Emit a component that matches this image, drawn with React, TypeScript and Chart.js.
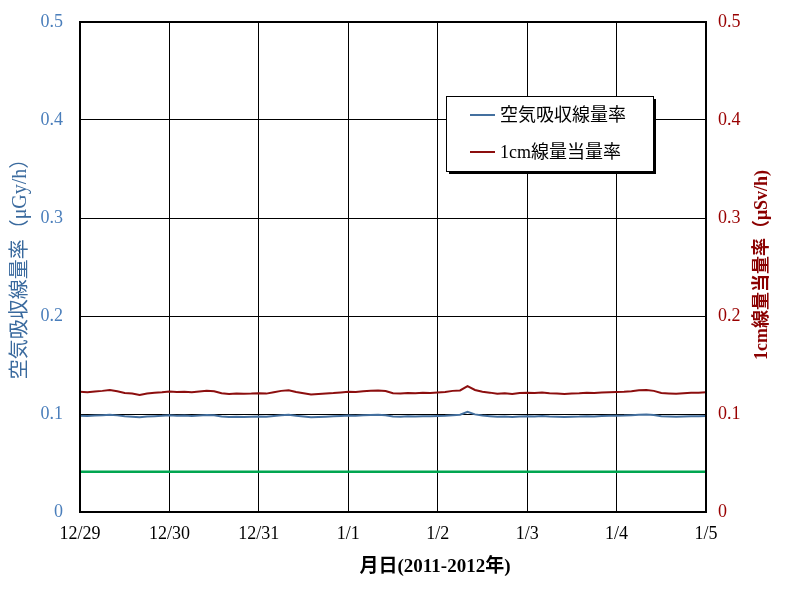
import React, { useEffect, useRef } from 'react';
import { Chart, registerables } from 'chart.js';

Chart.register(...registerables);

// ---- data ----
const X_LABELS = ['12/29', '12/30', '12/31', '1/1', '1/2', '1/3', '1/4', '1/5'];
const Y_LABELS = ['0', '0.1', '0.2', '0.3', '0.4', '0.5'];
const SAMPLES_PER_DAY = 12; // every 2 hours

const AIR_DOSE = [
  0.0983, 0.0980, 0.0984, 0.0988, 0.0992, 0.0986, 0.0976, 0.0972, 0.0968, 0.0974, 0.0978, 0.0981,
  0.0986, 0.0982, 0.0984, 0.0980, 0.0985, 0.0989, 0.0987, 0.0974, 0.0970, 0.0973, 0.0970, 0.0972,
  0.0975, 0.0972, 0.0980, 0.0988, 0.0992, 0.0981, 0.0974, 0.0966, 0.0970, 0.0973, 0.0976, 0.0980,
  0.0984, 0.0982, 0.0987, 0.0991, 0.0992, 0.0988, 0.0975, 0.0973, 0.0976, 0.0974, 0.0977, 0.0976,
  0.0980, 0.0983, 0.0988, 0.0992, 0.1022, 0.0996, 0.0984, 0.0978, 0.0971, 0.0974, 0.0970, 0.0975,
  0.0978, 0.0975, 0.0979, 0.0974, 0.0971, 0.0969, 0.0973, 0.0974, 0.0977, 0.0975, 0.0979, 0.0981,
  0.0983, 0.0984, 0.0988, 0.0993, 0.0995, 0.0989, 0.0977, 0.0974, 0.0971, 0.0975, 0.0978, 0.0977,
  0.0980,
];

const DOSE_EQ_1CM = [
  0.1227, 0.1222, 0.1230, 0.1236, 0.1245, 0.1232, 0.1215, 0.1208, 0.1195, 0.1210, 0.1218, 0.1222,
  0.1230, 0.1225, 0.1228, 0.1222, 0.1230, 0.1236, 0.1232, 0.1212, 0.1205, 0.1210, 0.1206, 0.1208,
  0.1212, 0.1208, 0.1222, 0.1236, 0.1242, 0.1225, 0.1212, 0.1200, 0.1205, 0.1210, 0.1214, 0.1220,
  0.1226, 0.1224, 0.1232, 0.1238, 0.1240, 0.1235, 0.1212, 0.1208, 0.1214, 0.1212, 0.1216, 0.1214,
  0.1220, 0.1225, 0.1236, 0.1240, 0.1285, 0.1245, 0.1228, 0.1218, 0.1206, 0.1212, 0.1205, 0.1214,
  0.1218, 0.1214, 0.1220, 0.1212, 0.1208, 0.1204, 0.1210, 0.1212, 0.1216, 0.1214, 0.1220, 0.1222,
  0.1224, 0.1226, 0.1232, 0.1242, 0.1245, 0.1236, 0.1215, 0.1210, 0.1206, 0.1212, 0.1218, 0.1216,
  0.1222,
];

const REFERENCE_LEVEL = [0.041, 0.041];
const REFERENCE_X = [0, 7];

const LABEL_AIR = '空気吸収線量率';
const LABEL_1CM = '1cm線量当量率';
const TITLE_LEFT = '空気吸収線量率（μGy/h）';
const TITLE_RIGHT = '1cm線量当量率（μSv/h)';
const TITLE_X = '月日(2011-2012年)';

const FONT = "'Liberation Serif', 'Noto Sans CJK JP', serif";
const BLUE = '#44709F';
const RED = '#8C0E0E';
const GREEN = '#00A650';

const overlayPlugin = {
  id: 'overlay',
  afterDraw(chart: any) {
    const { ctx, chartArea } = chart;
    const { left, right, top, bottom } = chartArea;
    ctx.save();
    // frame
    ctx.strokeStyle = '#000';
    ctx.lineWidth = 2;
    ctx.strokeRect(left, top, right - left, bottom - top);

    // axis titles
    ctx.textAlign = 'center';
    ctx.textBaseline = 'middle';
    ctx.font = `20px ${FONT}`;
    ctx.fillStyle = '#3A6A9E';
    ctx.save();
    ctx.translate(21, 264);
    ctx.rotate(-Math.PI / 2);
    ctx.fillText(TITLE_LEFT, 0, 0);
    ctx.restore();

    ctx.font = `bold 18px ${FONT}`;
    ctx.fillStyle = '#8B0000';
    ctx.save();
    ctx.translate(762, 265);
    ctx.rotate(-Math.PI / 2);
    ctx.fillText(TITLE_RIGHT, 0, 0);
    ctx.restore();

    ctx.font = `bold 19px ${FONT}`;
    ctx.fillStyle = '#000';
    ctx.fillText(TITLE_X, 435, 567);

    // legend box
    const bx = 446, by = 96, bw = 207, bh = 75;
    ctx.fillStyle = '#000';
    ctx.fillRect(bx + 3, by + 3, bw, bh);
    ctx.fillStyle = '#fff';
    ctx.fillRect(bx, by, bw, bh);
    ctx.strokeStyle = '#000';
    ctx.lineWidth = 1;
    ctx.strokeRect(bx + 0.5, by + 0.5, bw, bh);

    const items = [
      { label: chart.data.datasets[0].label, color: BLUE, y: 115 },
      { label: chart.data.datasets[1].label, color: RED, y: 152 },
    ];
    ctx.font = `18px ${FONT}`;
    ctx.textAlign = 'left';
    items.forEach((it) => {
      ctx.strokeStyle = it.color;
      ctx.lineWidth = 2;
      ctx.beginPath();
      ctx.moveTo(470, it.y);
      ctx.lineTo(495, it.y);
      ctx.stroke();
      ctx.fillStyle = '#000';
      ctx.fillText(it.label, 500, it.y + 1);
    });
    ctx.restore();
  },
};

export default function App() {
  const ref = useRef<HTMLCanvasElement | null>(null);

  useEffect(() => {
    if (!ref.current) return;
    const toPoints = (arr: number[]) =>
      arr.map((v, i) => ({ x: i / SAMPLES_PER_DAY, y: v }));
    const fitY = (w: number) => (s: any) => {
      s.width = w;
      s.paddingTop = 0;
      s.paddingBottom = 0;
    };
    const chart = new Chart(ref.current, {
      type: 'line',
      data: {
        datasets: [
          {
            label: LABEL_AIR,
            data: toPoints(AIR_DOSE),
            borderColor: BLUE,
            borderWidth: 2,
            pointRadius: 0,
            tension: 0,
            yAxisID: 'y',
          },
          {
            label: LABEL_1CM,
            data: toPoints(DOSE_EQ_1CM),
            borderColor: RED,
            borderWidth: 2,
            pointRadius: 0,
            tension: 0,
            yAxisID: 'y2',
          },
          {
            label: '',
            data: REFERENCE_X.map((x, i) => ({ x, y: REFERENCE_LEVEL[i] })),
            borderColor: GREEN,
            borderWidth: 2.5,
            pointRadius: 0,
            yAxisID: 'y',
          },
        ],
      },
      options: {
        animation: false,
        responsive: false,
        layout: { padding: { top: 22, left: 0, right: 0, bottom: 0 } },
        plugins: { legend: { display: false }, tooltip: { enabled: false } },
        scales: {
          x: {
            type: 'linear',
            min: 0,
            max: 7,
            afterFit: (s: any) => { s.height = 80; s.paddingLeft = 0; s.paddingRight = 0; },
            afterBuildTicks: (s: any) => {
              s.ticks = X_LABELS.map((_, i) => ({ value: i }));
            },
            ticks: {
              callback: (v: any) => X_LABELS[Math.round(Number(v))],
              font: { family: FONT, size: 18 },
              color: '#000',
              padding: 11,
              maxRotation: 0,
              autoSkip: false,
            },
            grid: { color: '#000', lineWidth: 1, drawTicks: false },
            border: { display: false },
          },
          y: {
            position: 'left',
            min: 0,
            max: 0.5,
            afterFit: fitY(80),
            afterBuildTicks: (s: any) => {
              s.ticks = Y_LABELS.map((l) => ({ value: Number(l) }));
            },
            ticks: {
              callback: (_v: any, i: number) => Y_LABELS[i],
              font: { family: FONT, size: 18 },
              color: '#4A7EBB',
              padding: 17,
            },
            grid: { color: '#000', lineWidth: 1, drawTicks: false },
            border: { display: false },
          },
          y2: {
            position: 'right',
            min: 0,
            max: 0.5,
            afterFit: fitY(79),
            afterBuildTicks: (s: any) => {
              s.ticks = Y_LABELS.map((l) => ({ value: Number(l) }));
            },
            ticks: {
              callback: (_v: any, i: number) => Y_LABELS[i],
              font: { family: FONT, size: 18 },
              color: '#990000',
              padding: 12,
            },
            grid: { drawOnChartArea: false, drawTicks: false },
            border: { display: false },
          },
        },
      },
      plugins: [overlayPlugin],
    });
    return () => chart.destroy();
  }, []);

  return (
    <div style={{ position: 'absolute', left: 0, top: 0, width: 785, height: 592, background: '#fff' }}>
      <canvas ref={ref} width={785} height={592} style={{ display: 'block' }} />
    </div>
  );
}
